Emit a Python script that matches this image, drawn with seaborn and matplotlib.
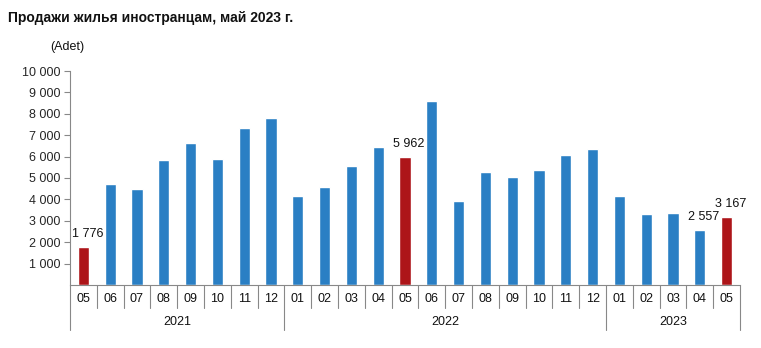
import matplotlib
matplotlib.use("Agg")
import matplotlib.pyplot as plt
import matplotlib.transforms as mtransforms
import seaborn as sns
import pandas as pd

months = ["05", "06", "07", "08", "09", "10", "11", "12",
          "01", "02", "03", "04", "05", "06", "07", "08", "09", "10", "11", "12",
          "01", "02", "03", "04", "05"]
years = ["2021"] * 8 + ["2022"] * 12 + ["2023"] * 5
values = [1776, 4720, 4480, 5840, 6640, 5880, 7340, 7800,
          4150, 4580, 5560, 6440, 5962, 8600, 3920, 5280, 5030, 5370, 6060, 6340,
          4150, 3340, 3370, 2557, 3167]
highlight = [0, 12, 24]
labelled = [0, 12, 23, 24]

sns.set_theme(style="white")
plt.rcParams['font.family'] = ['Liberation Sans', 'DejaVu Sans']

keys = [f"{y}-{m}" for y, m in zip(years, months)]
groups = ["hl" if i in highlight else "base" for i in range(len(values))]
df = pd.DataFrame({"key": keys, "value": values, "grp": groups})

fig = plt.figure(figsize=(7.61, 3.48), dpi=100)
ax = fig.add_axes([70 / 761, 1 - 285 / 348, 670 / 761, 214 / 348])

sns.barplot(data=df, x="key", y="value", hue="grp", order=keys,
            palette={"base": "#2a7fc4", "hl": "#ad1519"}, dodge=False,
            width=0.42, legend=False, ax=ax, saturation=1)

ax.set_ylim(0, 10000)
ax.set_xlim(-0.5, len(values) - 0.5)
ax.set_yticks(range(1000, 10001, 1000))
ax.set_yticklabels([f"{v:,}".replace(",", " ") for v in range(1000, 10001, 1000)], fontsize=9)
ax.tick_params(axis="y", length=4, width=0.8, color="#888888", pad=3, left=True)
ax.set_xticks([])
ax.set_xlabel("")
ax.set_ylabel("")
for s in ["top", "right"]:
    ax.spines[s].set_visible(False)
for s in ["left", "bottom"]:
    ax.spines[s].set_color("#888888")
    ax.spines[s].set_linewidth(0.8)

trans = mtransforms.blended_transform_factory(ax.transData, ax.transAxes)
ax_h = 214.0
# month labels and separators
for i, m in enumerate(months):
    ax.text(i, -14 / ax_h, m, transform=trans, ha="center", va="center", fontsize=9, color="#111111")
year_bounds = [0]
for i in range(1, len(years)):
    if years[i] != years[i - 1]:
        year_bounds.append(i)
year_bounds.append(len(years))
for b in range(len(years) + 1):
    depth = 45 if b in year_bounds else 23
    ax.plot([b - 0.5, b - 0.5], [0, -depth / ax_h], transform=trans, color="#888888",
            lw=0.8, clip_on=False)
for a, b in zip(year_bounds[:-1], year_bounds[1:]):
    ax.text((a + b - 1) / 2, -37 / ax_h, years[a], transform=trans, ha="center", va="center",
            fontsize=9, color="#111111")

for i in labelled:
    v = values[i]
    ax.text(i + 0.15, v + 350, f"{v:,}".replace(",", " "), ha="center", va="bottom",
            fontsize=9, color="#111111")

fig.text(8 / 761, 1 - 18 / 348, "Продажи жилья иностранцам, май 2023 г.", fontsize=10,
         fontweight="bold", ha="left", va="center", color="#111111")
fig.text(50 / 761, 1 - 47 / 348, "(Adet)", fontsize=9, ha="left", va="center", color="#111111")

fig.savefig("out.png", dpi=100)
